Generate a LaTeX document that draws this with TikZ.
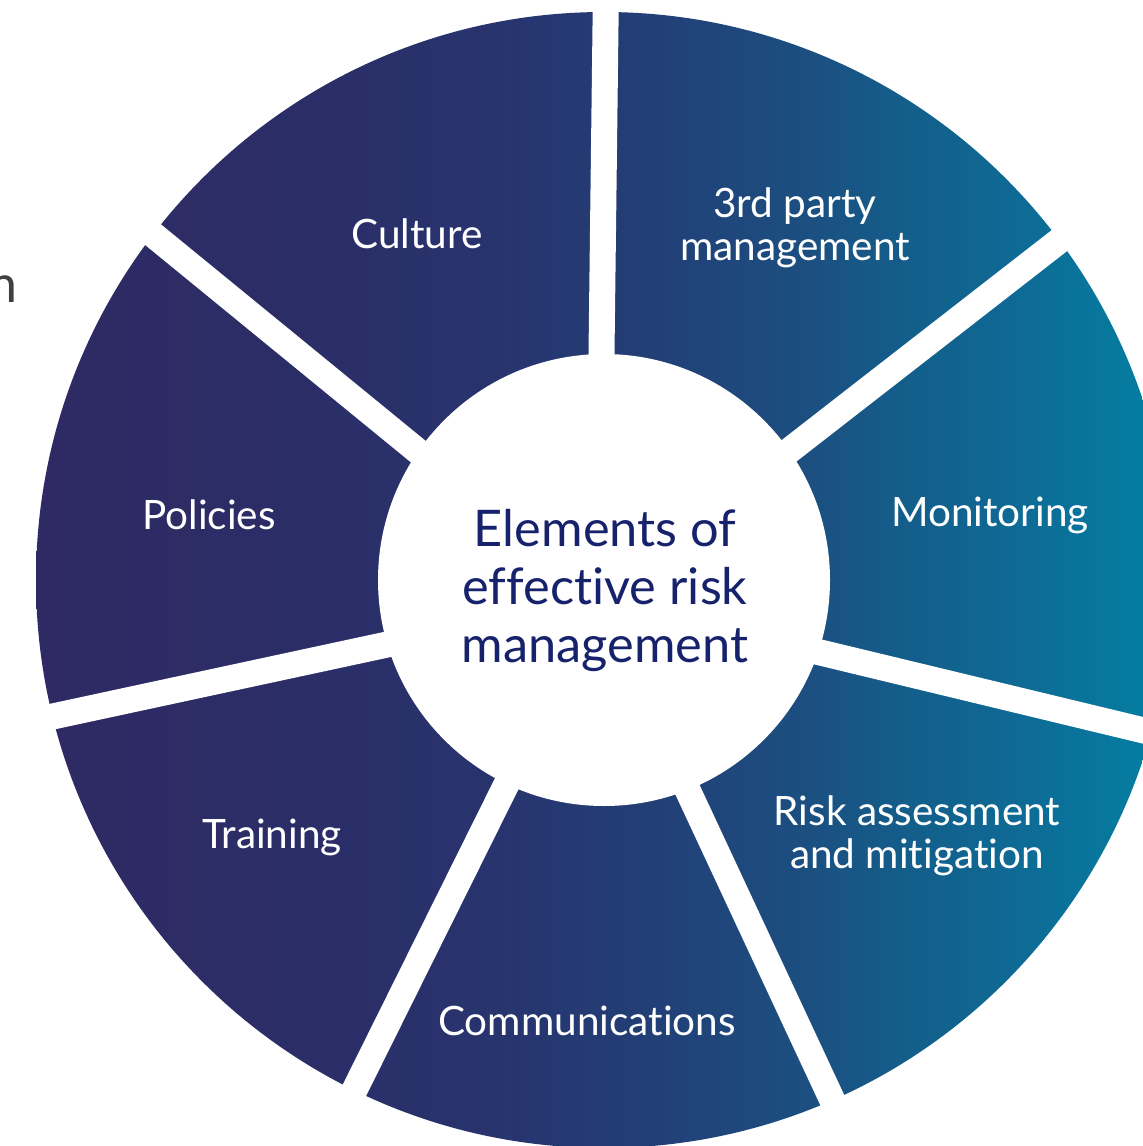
\documentclass[tikz,border=0pt]{standalone}
\usepackage{fontspec}
\setmainfont{Lato}[Ligatures=NoCommon]
\usepackage{xcolor}

\definecolor{ringA}{RGB}{47,42,99}
\definecolor{ringB}{RGB}{43,45,103}
\definecolor{ringC}{RGB}{40,52,110}
\definecolor{ringD}{RGB}{34,63,118}
\definecolor{ringE}{RGB}{28,78,128}
\definecolor{ringF}{RGB}{20,93,138}
\definecolor{ringG}{RGB}{15,104,147}
\definecolor{ringH}{RGB}{5,124,161}
\definecolor{ringI}{RGB}{3,128,163}
\definecolor{hubnavy}{RGB}{22,34,108}

\pgfdeclarehorizontalshading{ringshade}{100bp}{color(0bp)=(ringA); color(25bp)=(ringA);
  color(36.6bp)=(ringB); color(45.4bp)=(ringC); color(52bp)=(ringD);
  color(58.6bp)=(ringE); color(63bp)=(ringF); color(67.4bp)=(ringG);
  color(73.7bp)=(ringH); color(75bp)=(ringI); color(100bp)=(ringI)}

\begin{document}
\begin{tikzpicture}[
    x=1pt, y=-1pt,
    seglabel/.style={text=white, align=center, inner sep=0pt, font=\fontsize{40.5}{43}\selectfont},
    hubtext/.style={text=hubnavy, align=center, inner sep=0pt, font=\fontsize{50.5}{58}\selectfont},
    gapline/.style={draw=white, line width=26pt}
]
\useasboundingbox (0,0) rectangle (1143,1146);
\clip (0,0) rectangle (1143,1146);
\fill[white] (0,0) rectangle (1143,1146);

% ring with its gradient
\shade[shading=ringshade] (604,580) circle[radius=568];
\coordinate (gapcentre) at (598.5,599);
\foreach \k in {0,...,6}
    \draw[gapline] (gapcentre) -- ++({-89.3+\k*51.43}:700);
\fill[white] (604,580) circle[radius=226];

% segment labels
\node[seglabel] (culture) at (417,234) {Culture};
\node[seglabel] (thirdparty) at (795,228) {3rd party\\management};
\node[seglabel] (monitoring) at (990,515) {Monitoring};
\node[seglabel] (riskassess) at (917,836) {Risk assessment\\and mitigation};
\node[seglabel] (comms) at (587,1021) {Communications};
\node[seglabel] (training) at (272,837) {Training};
\node[seglabel] (policies) at (209,515) {Policies};
\node[hubtext] (hub) at (605,591) {Elements of\\effective risk\\management};

% clipped word at the left edge
\node[anchor=base east, inner sep=0pt, text=black!75, font=\fontsize{52}{60}\selectfont] (edgeword) at (18,302) {n};
\end{tikzpicture}
\end{document}
